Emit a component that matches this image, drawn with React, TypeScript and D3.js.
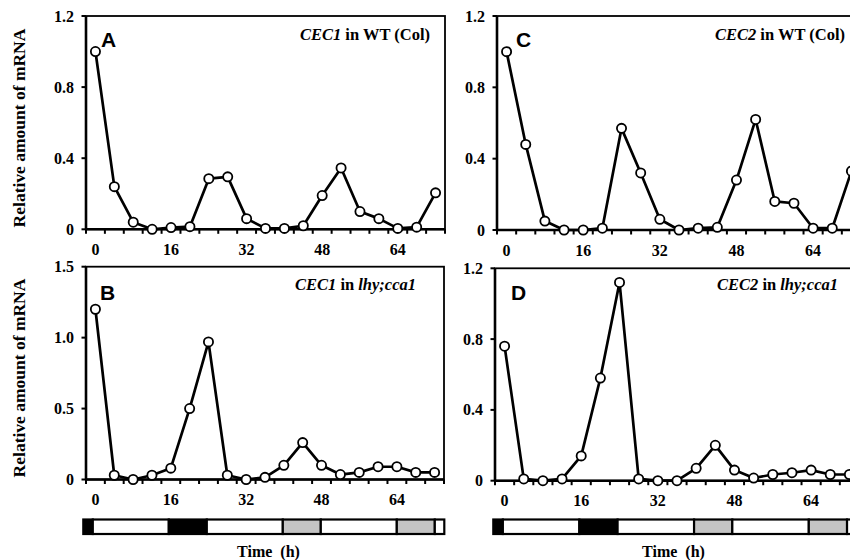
import React from "react";
import * as d3 from "d3";

// ---- data ----
const hours = [0, 4, 8, 12, 16, 20, 24, 28, 32, 36, 40, 44, 48, 52, 56, 60, 64, 68, 72];
const cec1WT = [1.0, 0.24, 0.04, 0.0, 0.01, 0.015, 0.285, 0.295, 0.06, 0.005, 0.005, 0.02, 0.19, 0.345, 0.1, 0.06, 0.005, 0.012, 0.205];
const cec2WT = [1.0, 0.48, 0.05, 0.0, 0.0, 0.01, 0.57, 0.32, 0.06, 0.0, 0.01, 0.015, 0.28, 0.62, 0.16, 0.15, 0.01, 0.01, 0.33];
const cec1Mut = [1.2, 0.03, 0.0, 0.03, 0.08, 0.5, 0.97, 0.03, 0.0, 0.015, 0.1, 0.26, 0.1, 0.035, 0.05, 0.09, 0.09, 0.05, 0.05];
const cec2Mut = [0.76, 0.01, 0.0, 0.01, 0.14, 0.58, 1.12, 0.01, 0.0, 0.0, 0.07, 0.2, 0.06, 0.015, 0.035, 0.045, 0.06, 0.035, 0.035];
const xTickLabels = [0, 16, 32, 48, 64];
const yTicksWT = [0, 0.4, 0.8, 1.2];
const yTicksMut1 = [0, 0.5, 1.0, 1.5];
const yTicksMut2 = [0, 0.4, 0.8, 1.2];
const lightStart = [-2, 0, 16, 24, 40, 48, 64, 72];
const lightEnd = [0, 16, 24, 40, 48, 64, 72, 74];
const lightKind = ["dark", "light", "dark", "light", "subjective", "light", "subjective", "light"];

const serif = "'Liberation Serif', 'Times New Roman', serif";
const sans = "'Liberation Sans', Arial, sans-serif";

type PanelProps = {
  left: number; top: number; width: number; height: number;
  yMax: number; yTicks: number[]; yFmt: (v: number) => string;
  values: number[]; letter: string; letterX: number; letterY: number;
  gene: string; suffix: string; italicSuffix: boolean; titleRight: number; titleY: number;
};

function Panel(p: PanelProps) {
  const x = d3.scaleLinear().domain([-2, 74]).range([p.left, p.left + p.width]);
  const y = d3.scaleLinear().domain([0, p.yMax]).range([p.top + p.height, p.top]);
  const bottom = p.top + p.height;
  const line = d3.line<number>().x((_, i) => x(hours[i])).y((d) => y(d));
  const minor = d3.range(-2, 75, 4);
  return (
    <g>
      <rect x={p.left} y={p.top} width={p.width} height={p.height} fill="none" stroke="#000" strokeWidth={1.8} />
      <line x1={p.left} x2={p.left} y1={p.top} y2={bottom} stroke="#000" strokeWidth={2.6} />
      <line x1={p.left} x2={p.left + p.width} y1={bottom} y2={bottom} stroke="#000" strokeWidth={2.6} />
      {minor.map((h) => (
        <line key={h} x1={x(h)} x2={x(h)} y1={bottom} y2={bottom + 4.5} stroke="#000" strokeWidth={2} />
      ))}
      {p.yTicks.map((t) => (
        <g key={t}>
          <line x1={p.left - 4.5} x2={p.left} y1={y(t)} y2={y(t)} stroke="#000" strokeWidth={2} />
          <text x={p.left - 12} y={y(t) + 5.5} textAnchor="end" fontFamily={serif} fontWeight="bold" fontSize={16}>
            {p.yFmt(t)}
          </text>
        </g>
      ))}
      {xTickLabels.map((t) => (
        <text key={t} x={x(t)} y={bottom + 25.5} textAnchor="middle" fontFamily={serif} fontWeight="bold" fontSize={16}>
          {t}
        </text>
      ))}
      <path d={line(p.values) || ""} fill="none" stroke="#000" strokeWidth={2.7} strokeLinejoin="round" />
      {p.values.map((v, i) => (
        <circle key={i} cx={x(hours[i])} cy={y(v)} r={4.6} fill="#fff" stroke="#000" strokeWidth={1.8} />
      ))}
      <text x={p.letterX} y={p.letterY} fontFamily={sans} fontWeight="bold" fontSize={21}>{p.letter}</text>
      <text x={p.titleRight} y={p.titleY} textAnchor="end" fontFamily={serif} fontWeight="bold" fontSize={16.5}>
        <tspan fontStyle="italic">{p.gene}</tspan>
        <tspan> in </tspan>
        <tspan fontStyle={p.italicSuffix ? "italic" : "normal"}>{p.suffix}</tspan>
      </text>
    </g>
  );
}

function LightBar({ left, width, top }: { left: number; width: number; top: number }) {
  const x = d3.scaleLinear().domain([-2, 74]).range([left, left + width]);
  const fillOf = (k: string) => (k === "dark" ? "#000" : k === "subjective" ? "#c4c4c4" : "#fff");
  return (
    <g>
      {lightStart.map((s, i) => (
        <rect key={i} x={x(s)} y={top} width={x(lightEnd[i]) - x(s)} height={14.5}
          fill={fillOf(lightKind[i])} stroke="#000" strokeWidth={2.2} />
      ))}
    </g>
  );
}

export default function App() {
  const f1 = (v: number) => (v === 0 ? "0" : v.toFixed(1));
  return (
    <svg width={850} height={560} style={{ position: "absolute", left: 0, top: 0, background: "#fff" }}>
      <rect width={850} height={560} fill="#fff" />
      <Panel left={86} top={16} width={359} height={213.3} yMax={1.2} yTicks={yTicksWT} yFmt={f1}
        values={cec1WT} letter="A" letterX={101} letterY={46.5}
        gene="CEC1" suffix="WT (Col)" italicSuffix={false} titleRight={430} titleY={40} />
      <Panel left={497} top={16} width={364} height={214} yMax={1.2} yTicks={yTicksWT} yFmt={f1}
        values={cec2WT} letter="C" letterX={516} letterY={46.5}
        gene="CEC2" suffix="WT (Col)" italicSuffix={false} titleRight={845} titleY={40} />
      <Panel left={86} top={266.7} width={358} height={212.8} yMax={1.5} yTicks={yTicksMut1} yFmt={f1}
        values={cec1Mut} letter="B" letterX={100} letterY={300}
        gene="CEC1" suffix="lhy;cca1" italicSuffix={true} titleRight={416} titleY={290} />
      <Panel left={495} top={268.3} width={364} height={212.4} yMax={1.2} yTicks={yTicksMut2} yFmt={f1}
        values={cec2Mut} letter="D" letterX={511} letterY={300}
        gene="CEC2" suffix="lhy;cca1" italicSuffix={true} titleRight={838} titleY={290} />
      <text transform="translate(25,128) rotate(-90)" textAnchor="middle" fontFamily={serif} fontWeight="bold" fontSize={17.5}>
        Relative amount of mRNA
      </text>
      <text transform="translate(25,378) rotate(-90)" textAnchor="middle" fontFamily={serif} fontWeight="bold" fontSize={17.5}>
        Relative amount of mRNA
      </text>
      <LightBar left={83.3} width={361} top={519.5} />
      <LightBar left={493.3} width={363.3} top={519.5} />
      <text x={268.5} y={557} textAnchor="middle" fontFamily={serif} fontWeight="bold" fontSize={16} style={{ whiteSpace: "pre" }}>
        {"Time  (h)"}
      </text>
      <text x={673.5} y={557} textAnchor="middle" fontFamily={serif} fontWeight="bold" fontSize={16} style={{ whiteSpace: "pre" }}>
        {"Time  (h)"}
      </text>
    </svg>
  );
}
